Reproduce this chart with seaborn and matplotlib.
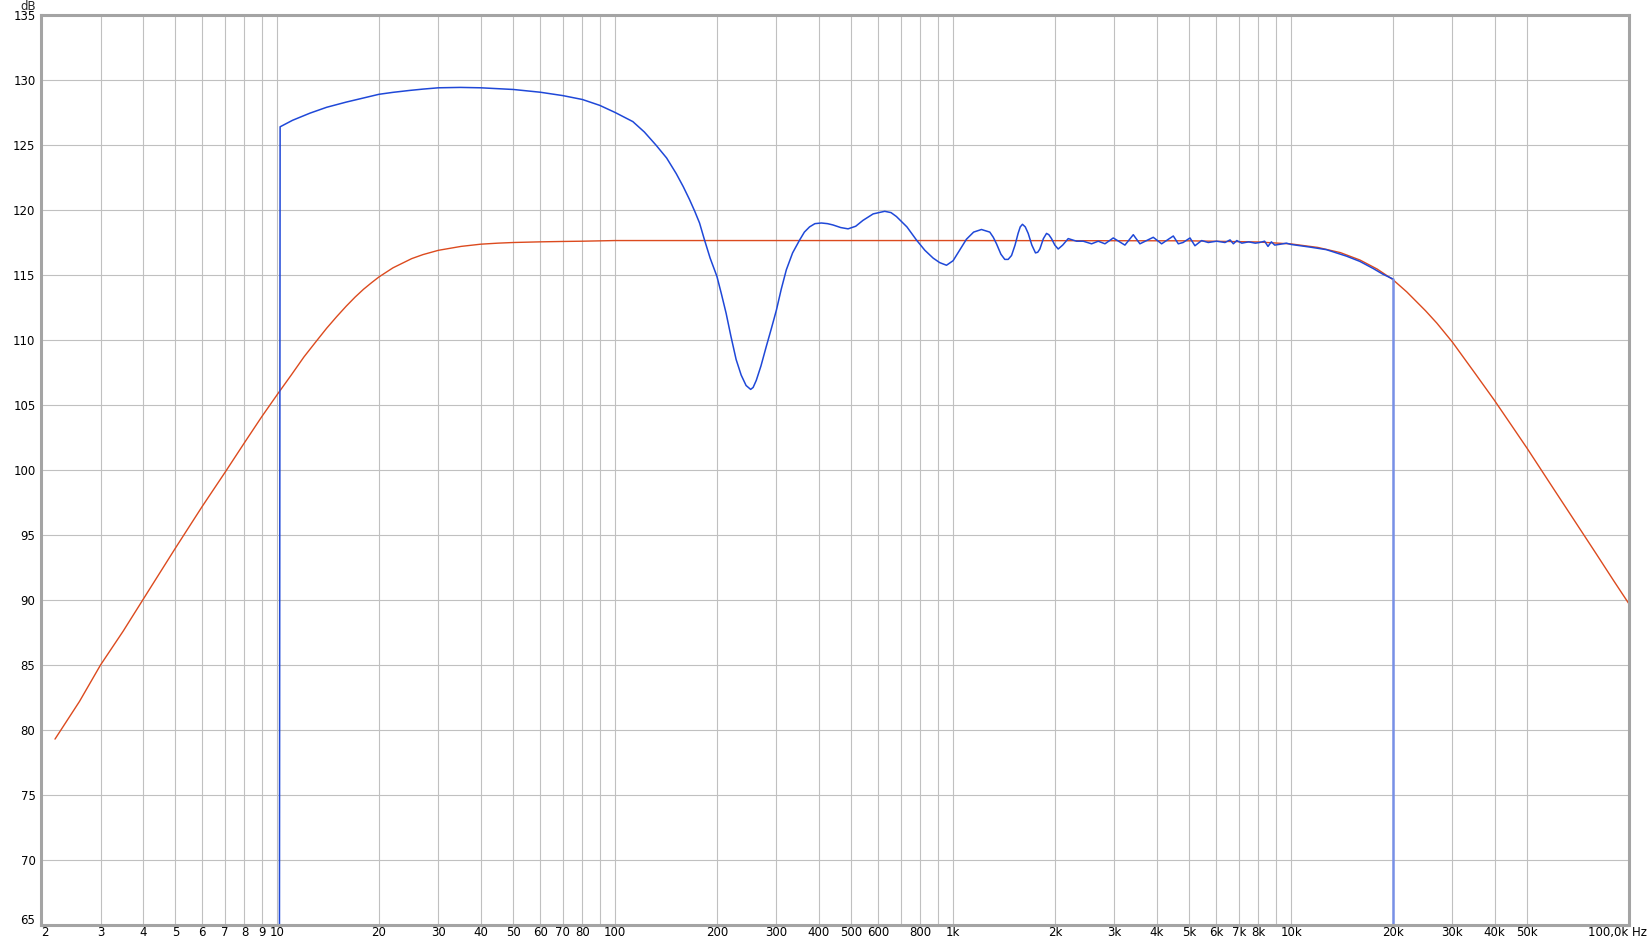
import numpy as np
import pandas as pd
import seaborn as sns
import matplotlib.pyplot as plt
from matplotlib.transforms import ScaledTranslation

# target curve (red)
red_freq = [2.2, 2.6, 3, 3.5, 4, 5, 6, 7, 8, 9, 10, 11, 12, 13, 14, 15, 16, 17, 18, 19,
            20, 22, 25, 27, 30, 35, 40, 45, 50, 60, 70, 80, 100, 1000, 5000, 8000, 10000,
            12000, 14000, 16000, 18000, 20000, 22000, 25000, 27000, 30000, 35000, 40000,
            45000, 50000, 60000, 70000, 80000, 90000, 100000]
red_db = [79.3, 82.2, 85.0, 87.6, 90.0, 94.0, 97.2, 99.8, 102.1, 104.1, 105.8, 107.3, 108.7,
          109.85, 110.9, 111.8, 112.6, 113.3, 113.9, 114.4, 114.85, 115.55, 116.26, 116.57,
          116.9, 117.2, 117.37, 117.45, 117.5, 117.55, 117.58, 117.6, 117.65, 117.65,
          117.63, 117.54, 117.39, 117.12, 116.72, 116.15, 115.45, 114.65, 113.7, 112.25,
          111.3, 109.85, 107.45, 105.35, 103.4, 101.65, 98.5, 95.85, 93.55, 91.5, 89.7]

# measured curve (blue)
blue_freq = [10.15, 10.2, 11.1, 12.5, 14.0, 16.0, 18, 20, 22, 24.7, 27, 30, 34.8,
             40, 50, 60, 70, 80, 90, 100, 112.8, 122, 132,
             142, 151.6, 159, 166, 172, 177.7, 183.8, 191, 200, 206,
             213, 220, 228, 236, 244, 251.7, 256, 261.6, 270, 280,
             290, 300, 310, 321, 335, 351.6, 363, 376, 390, 407.5,
             425, 441, 465, 488.8, 515, 541, 580, 627.5, 655, 679.5,
             730, 778.6, 825, 872.8, 913, 956, 1000, 1045, 1095, 1150,
             1213, 1284, 1315, 1344, 1385, 1422, 1455, 1489, 1525, 1557,
             1580, 1604, 1635, 1668, 1710, 1753, 1780, 1806, 1850, 1890,
             1920, 1955, 2000, 2046, 2110, 2191, 2319, 2427, 2569, 2688,
             2814, 2978, 3224, 3413, 3571, 3911, 4140, 4483, 4638, 4792,
             5023, 5195, 5436, 5688, 6022, 6375, 6600, 6750, 6910, 7150,
             7490, 7840, 8075, 8350, 8545, 8745, 8945, 9470, 9690, 10000,
             11360, 12720, 13620, 14590, 15970, 17500, 18730, 20000]
blue_db = [60, 126.4, 126.9, 127.45, 127.9, 128.3, 128.62, 128.9, 129.05, 129.2, 129.3, 129.4, 129.43,
           129.4, 129.27, 129.06, 128.8, 128.5, 128.05, 127.5, 126.8, 126.0, 125.0,
           124.0, 122.8, 121.8, 120.8, 119.9, 119.0, 117.7, 116.3, 114.9, 113.6,
           112.05, 110.3, 108.5, 107.3, 106.5, 106.2, 106.35, 106.9, 108.0, 109.5,
           110.9, 112.3, 113.9, 115.4, 116.7, 117.7, 118.3, 118.7, 118.95, 119.0,
           118.95, 118.85, 118.65, 118.55, 118.75, 119.2, 119.7, 119.9, 119.8, 119.5,
           118.7, 117.7, 116.9, 116.3, 115.95, 115.75, 116.1, 116.9, 117.75, 118.3,
           118.5, 118.3, 117.9, 117.4, 116.6, 116.2, 116.2, 116.5, 117.3, 118.2,
           118.7, 118.9, 118.7, 118.2, 117.3, 116.7, 116.75, 117.0, 117.8, 118.2,
           118.1, 117.8, 117.3, 117.0, 117.3, 117.8, 117.6, 117.6, 117.4, 117.6,
           117.4, 117.85, 117.3, 118.1, 117.4, 117.9, 117.4, 118.0, 117.4, 117.5,
           117.85, 117.25, 117.65, 117.5, 117.6, 117.5, 117.7, 117.4, 117.65, 117.45,
           117.55, 117.45, 117.5, 117.6, 117.2, 117.55, 117.3, 117.4, 117.45, 117.35,
           117.15, 116.95, 116.7, 116.45, 116.05, 115.5, 115.05, 114.7]
drop_freq = [20000, 20000]
drop_db = [114.7, 60]

tick_freqs = [2, 3, 4, 5, 6, 7, 8, 9, 10, 20, 30, 40, 50, 60, 70, 80, 90,
              100, 200, 300, 400, 500, 600, 700, 800, 900, 1000, 2000, 3000, 4000,
              5000, 6000, 7000, 8000, 9000, 10000, 20000, 30000, 40000, 50000, 100000]
tick_labels = ["2", "3", "4", "5", "6", "7", "8", "9", "10", "20", "30", "40", "50", "60",
               "70", "80", "", "100", "200", "300", "400", "500", "600", "", "800", "",
               "1k", "2k", "3k", "4k", "5k", "6k", "7k", "8k", "", "10k", "20k", "30k",
               "40k", "50k", "100,0k Hz"]
y_ticks = list(range(65, 136, 5))

RED = "#dc4a1e"
BLUE = "#1f48d8"

sns.set_theme(style="white")
plt.rcParams["font.family"] = ["DejaVu Sans"]

fig = plt.figure(figsize=(16.49, 9.40), dpi=100)
ax = fig.add_axes([41 / 1649, 15 / 940, 1588 / 1649, 910 / 940])

red = pd.DataFrame({"f": red_freq, "db": red_db})
blue = pd.DataFrame({"f": blue_freq, "db": blue_db})
drop = pd.DataFrame({"f": drop_freq, "db": drop_db})

sns.lineplot(data=red, x="f", y="db", color=RED, lw=1.0, estimator=None, sort=False, ax=ax)
sns.lineplot(data=blue, x="f", y="db", color=BLUE, lw=1.1, estimator=None, sort=False, ax=ax)
sns.lineplot(data=drop, x="f", y="db", color="#7890e6", lw=1.8, estimator=None, sort=False, ax=ax)

ax.set_xscale("log")
ax.set_xlim(2, 100000)
ax.set_ylim(65, 135)
ax.set_xticks(tick_freqs)
ax.set_xticklabels(tick_labels)
ax.xaxis.set_minor_locator(plt.NullLocator())
ax.set_yticks(y_ticks)
ax.set_yticklabels([str(v) for v in y_ticks])
ax.set_xlabel("")
ax.set_ylabel("")

ax.grid(True, color="#c0c0c0", lw=0.8)
ax.set_axisbelow(True)
ax.tick_params(axis="both", length=0, labelsize=8.5, colors="#000000")
ax.tick_params(axis="x", pad=1)
ax.tick_params(axis="y", pad=4)

for s in ax.spines.values():
    s.set_color("#a4a4a4")
    s.set_linewidth(2.2)

xl = ax.get_xticklabels()
xl[0].set_ha("left")
xl[-1].set_ha("right")
xl[-1].set_transform(xl[-1].get_transform() + ScaledTranslation(18 / 100, 0, fig.dpi_scale_trans))
yl = ax.get_yticklabels()
yl[0].set_transform(yl[0].get_transform() + ScaledTranslation(0, 6 / 100, fig.dpi_scale_trans))

fig.text(28 / 1649, 1 - 6 / 940, "dB", ha="center", va="center", fontsize=8.5)

fig.savefig("out.png", dpi=100, facecolor="white")
